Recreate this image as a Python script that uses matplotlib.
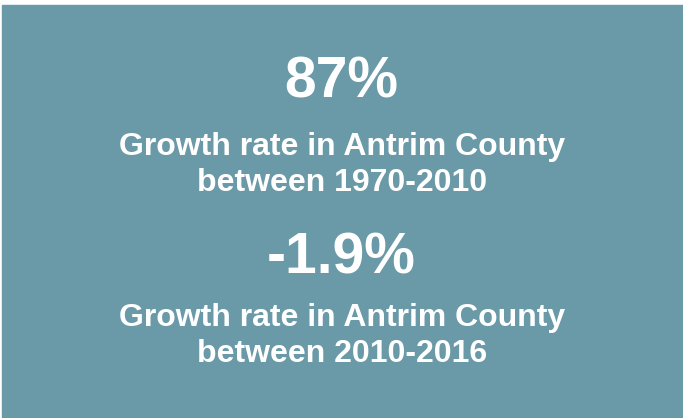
import matplotlib
matplotlib.use("Agg")
import matplotlib.pyplot as plt
from matplotlib.patches import Rectangle

# stats shown on the card
values = ["87%", "-1.9%"]
captions = ["Growth rate in Antrim County\nbetween 1970-2010",
            "Growth rate in Antrim County\nbetween 2010-2016"]

bg = "#6a99a8"

fig = plt.figure(figsize=(6.83, 4.18), dpi=100)
fig.patch.set_facecolor("white")
ax = fig.add_axes([0, 0, 1, 1])
ax.set_xlim(0, 683)
ax.set_ylim(418, 0)
ax.axis("off")

# card background (thin white margin top/left)
ax.add_patch(Rectangle((2, 5), 681, 413, color=bg, zorder=0))

value_y = [83, 258]
caption_y = [165, 336]

for v, c, vy, cy in zip(values, captions, value_y, caption_y):
    ax.text(341, vy, v, color="white", fontsize=41, fontweight="bold",
            family="Liberation Sans", ha="center", va="center")
    ax.text(342, cy, c, color="white", fontsize=23, fontweight="bold",
            family="Liberation Sans", ha="center", va="center",
            linespacing=1.22)

fig.savefig("out.png", dpi=100, facecolor=fig.get_facecolor())
